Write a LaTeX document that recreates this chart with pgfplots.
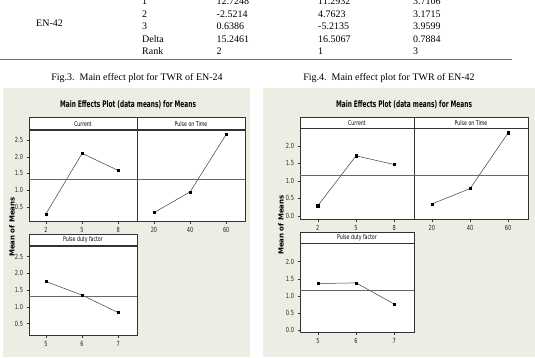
\documentclass[border=0pt]{standalone}
\usepackage{pgfplots}
\pgfplotsset{compat=1.18}
\usepackage{fontspec}
\setmainfont{Liberation Serif}
\newfontfamily\mtb[FakeStretch=0.8]{DejaVu Sans Condensed}
\newfontfamily\mtbtitle[FakeStretch=0.72]{DejaVu Sans Condensed}
\newfontfamily\mtbwide{DejaVu Sans}
\definecolor{panelbg}{RGB}{238,237,227}
\definecolor{lineg}{RGB}{60,60,60}

\pgfplotsset{
  % panel strip headers sit directly on top of each plot box
  every axis title/.style={at={(0.5,1)}, anchor=south, draw=black!80, line width=0.6pt,
      fill=white, inner sep=0pt, font=\mtb\fontsize{6.5}{7}\selectfont},
  effect/.style={
    scale only axis,
    axis background/.style={fill=white},
    axis line style={black!80, line width=0.6pt},
    tick align=outside, xtick pos=bottom, ytick pos=left,
    major tick length=2.5pt,
    tick style={black!80, line width=0.5pt},
    tick label style={font=\mtb\fontsize{7}{8}\selectfont, text=black!85},
    /pgf/number format/assume math mode=true,
    yticklabel style={/pgf/number format/.cd, fixed, fixed zerofill, precision=1},
    xticklabel style={/pgf/number format/.cd, fixed},
  },
  effect line/.style={lineg, line width=0.5pt, mark=square*, mark size=1.1pt,
    mark options={black}},
  grand mean/.style={black!60, line width=0.7pt},
}

\begin{document}
\begin{tikzpicture}
\path[use as bounding box] (0pt,0pt) rectangle (535pt,357pt);

\begin{scope}[x=1pt, y=1pt]
% ---- end of the response table ----
\begin{scope}[every node/.style={anchor=west, inner sep=0pt, font=\fontsize{10}{12}\selectfont}]
  \node at (36,334) {EN-42};
  \node at (142,355.5) {1};      \node at (216.5,355.5) {12.7248};
  \node at (318,355.5) {11.2932}; \node at (413,355.5) {3.7106};
  \node at (142,343) {2};        \node at (216.5,343) {-2.5214};
  \node at (318,343) {4.7623};    \node at (413,343) {3.1715};
  \node at (142,330.5) {3};      \node at (216.5,330.5) {0.6386};
  \node at (318,330.5) {-5.2135}; \node at (413,330.5) {3.9599};
  \node at (142,318) {Delta};    \node at (216.5,318) {15.2461};
  \node at (318,318) {16.5067};   \node at (413,318) {0.7884};
  \node at (142,305.5) {Rank};   \node at (216.5,305.5) {2};
  \node at (318,305.5) {1};       \node at (413,305.5) {3};
\end{scope}
\draw[black!55, line width=0.8pt] (0,297.5) -- (512,297.5);

\node[font=\fontsize{10}{12}\selectfont] at (137,279) {Fig.3.\ \ Main effect plot for TWR of EN-24};
\node[font=\fontsize{10}{12}\selectfont] at (389,279) {Fig.4.\ \ Main effect plot for TWR of EN-42};

% ---- panel backgrounds ----
\fill[panelbg] (3,0) rectangle (250,269);
\fill[panelbg] (263,0) rectangle (535,269);

\node[font=\mtbtitle\bfseries\fontsize{9}{10}\selectfont] at (128,252) {Main Effects Plot (data means) for Means};
\node[rotate=90, font=\mtbwide\bfseries\fontsize{7}{8}\selectfont] at (12,130) {Mean of Means};
\node[font=\mtbtitle\bfseries\fontsize{9}{10}\selectfont] at (404,252) {Main Effects Plot (data means) for Means};
\node[rotate=90, font=\mtbwide\bfseries\fontsize{7}{8}\selectfont] at (281,132) {Mean of Means};
\end{scope}

% ================= EN-24 =================
\begin{axis}[effect, at={(29pt,136pt)}, anchor=south west, width=108pt, height=91pt,
  xmin=0.6, xmax=9.55, ymin=0.08, ymax=2.8,
  xtick={2,5,8}, ytick={0.5,1.0,1.5,2.0,2.5},
  title={Current}, title style={minimum width=108pt, minimum height=12pt}]
  \addplot[effect line] coordinates {(2,0.29) (5,2.10) (8,1.59)};
  \addplot[grand mean] coordinates {(0.6,1.32) (9.55,1.32)};
\end{axis}

\begin{axis}[effect, at={(137pt,136pt)}, anchor=south west, width=108pt, height=91pt,
  xmin=10.6, xmax=70.4, ymin=0.08, ymax=2.8,
  xtick={20,40,60}, ytick=\empty,
  title={Pulse on Time}, title style={minimum width=108pt, minimum height=12pt}]
  \addplot[effect line] coordinates {(20,0.33) (40,0.95) (60,2.67)};
  \addplot[grand mean] coordinates {(10.6,1.32) (70.4,1.32)};
\end{axis}

\begin{axis}[effect, at={(29pt,22pt)}, anchor=south west, width=108pt, height=89pt,
  xmin=4.53, xmax=7.52, ymin=0.16, ymax=2.82,
  xtick={5,6,7}, ytick={0.5,1.0,1.5,2.0,2.5},
  title={Pulse duty factor}, title style={minimum width=108pt, minimum height=11pt}]
  \addplot[effect line] coordinates {(5,1.76) (6,1.35) (7,0.83)};
  \addplot[grand mean] coordinates {(4.53,1.32) (7.52,1.32)};
\end{axis}

% ================= EN-42 =================
\begin{axis}[effect, at={(300pt,137.4pt)}, anchor=south west, width=114pt, height=91.3pt,
  xmin=0.6, xmax=9.55, ymin=-0.11, ymax=2.51,
  xtick={2,5,8}, ytick={0.0,0.5,1.0,1.5,2.0},
  title={Current}, title style={minimum width=114pt, minimum height=10.5pt}]
  \addplot[effect line] coordinates {(2,0.29) (5,1.72) (8,1.47)};
  \addplot[grand mean] coordinates {(0.6,1.16) (9.55,1.16)};
\end{axis}

\begin{axis}[effect, at={(414pt,137.4pt)}, anchor=south west, width=114pt, height=91.3pt,
  xmin=10.6, xmax=70.4, ymin=-0.11, ymax=2.51,
  xtick={20,40,60}, ytick=\empty,
  title={Pulse on Time}, title style={minimum width=114pt, minimum height=10.5pt}]
  \addplot[effect line] coordinates {(20,0.34) (40,0.78) (60,2.38)};
  \addplot[grand mean] coordinates {(10.6,1.16) (70.4,1.16)};
\end{axis}

\begin{axis}[effect, at={(300pt,24.3pt)}, anchor=south west, width=114pt, height=89.4pt,
  xmin=4.53, xmax=7.52, ymin=-0.08, ymax=2.54,
  xtick={5,6,7}, ytick={0.0,0.5,1.0,1.5,2.0},
  title={Pulse duty factor}, title style={minimum width=114pt, minimum height=10.5pt}]
  \addplot[effect line] coordinates {(5,1.36) (6,1.38) (7,0.76)};
  \addplot[grand mean] coordinates {(4.53,1.16) (7.52,1.16)};
\end{axis}
\end{tikzpicture}
\end{document}
